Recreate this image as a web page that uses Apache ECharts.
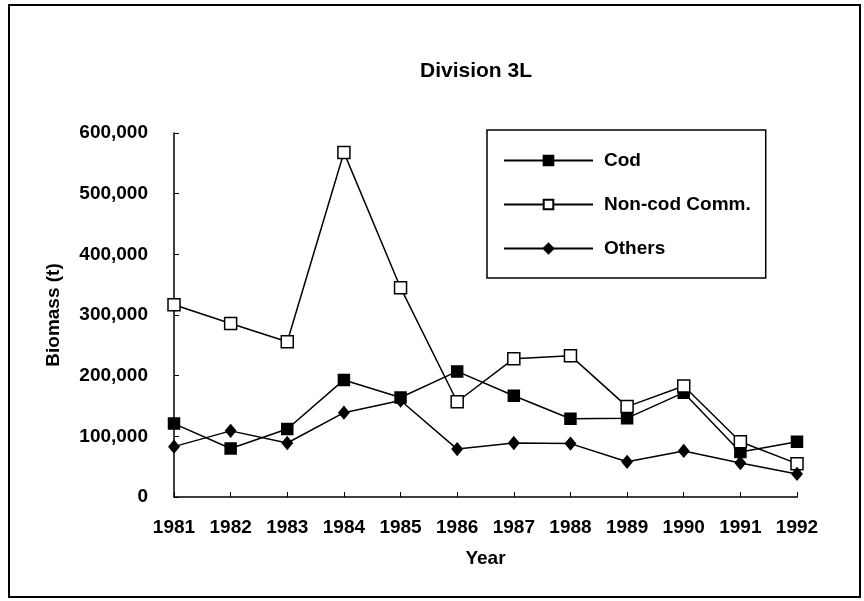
<!DOCTYPE html>
<html>
<head>
<meta charset="utf-8">
<script src="https://cdn.jsdelivr.net/npm/echarts@6/dist/echarts.min.js"></script>
<style>
  html, body { margin: 0; padding: 0; background: #fff; }
  #chart { width: 864px; height: 601px; }
</style>
</head>
<body>
<div id="chart"></div>
<script>
'use strict';

const YEARS = ['1981', '1982', '1983', '1984', '1985', '1986', '1987', '1988', '1989', '1990', '1991', '1992'];
const COD = [121000, 80000, 112000, 193000, 164000, 207000, 167000, 129000, 130000, 172000, 74000, 91000];
const NON_COD = [317000, 286000, 256000, 568000, 345000, 157000, 228000, 233000, 149000, 183000, 91000, 55000];
const OTHERS = [83000, 109000, 89000, 139000, 159000, 79000, 89000, 88000, 58000, 76000, 56000, 38000];

const FONT = '"Liberation Sans", Arial, sans-serif';
const INK = '#000';

function fmtThousands(v) {
  return String(v).replace(/\B(?=(\d{3})+(?!\d))/g, ',');
}

function lineSeries(name, data, symbol, size, fill) {
  return {
    name: name,
    type: 'line',
    data: data,
    symbol: symbol,
    symbolSize: size,
    showAllSymbol: true,
    lineStyle: { color: INK, width: 1.5 },
    itemStyle: { color: fill, borderColor: INK, borderWidth: 1.5 },
    emphasis: { disabled: true },
    animation: false
  };
}

const chart = echarts.init(document.getElementById('chart'), null, { renderer: 'canvas' });

chart.setOption({
  backgroundColor: '#fff',
  animation: false,
  graphic: [{
    type: 'rect',
    shape: { x: 9, y: 5, width: 851, height: 592 },
    style: { fill: 'none', stroke: INK, lineWidth: 2 },
    silent: true
  }],
  title: {
    text: 'Division 3L',
    left: 471,
    textAlign: 'center',
    top: 56,
    textStyle: { fontFamily: FONT, fontSize: 21, fontWeight: 'bold', color: INK }
  },
  legend: {
    orient: 'vertical',
    left: 487,
    top: 130,
    padding: [21, 15, 20, 16],
    itemGap: 25,
    itemWidth: 89,
    itemHeight: 12,
    borderColor: INK,
    borderWidth: 1.5,
    textStyle: { fontFamily: FONT, fontSize: 19, fontWeight: 'bold', color: INK, padding: [0, 0, 0, 6] },
    data: ['Cod', 'Non-cod Comm.', 'Others']
  },
  grid: { left: 174, right: 67, top: 133, bottom: 104, containLabel: false },
  xAxis: {
    type: 'category',
    data: YEARS,
    boundaryGap: false,
    name: 'Year',
    nameLocation: 'middle',
    nameGap: 52,
    nameTextStyle: { fontFamily: FONT, fontSize: 19, fontWeight: 'bold', color: INK },
    axisLine: { lineStyle: { color: INK, width: 1.5 } },
    axisTick: { inside: true, length: 5, alignWithLabel: true, lineStyle: { color: INK } },
    axisLabel: { margin: 21, fontFamily: FONT, fontSize: 19, fontWeight: 'bold', color: INK },
    splitLine: { show: false }
  },
  yAxis: {
    type: 'value',
    min: 0,
    max: 600000,
    interval: 100000,
    name: 'Biomass (t)',
    nameLocation: 'middle',
    nameRotate: 90,
    nameGap: 111,
    nameTextStyle: { fontFamily: FONT, fontSize: 19, fontWeight: 'bold', color: INK },
    axisLine: { show: true, lineStyle: { color: INK, width: 1.5 } },
    axisTick: { show: true, inside: true, length: 5, lineStyle: { color: INK } },
    axisLabel: { margin: 26, fontFamily: FONT, fontSize: 19, fontWeight: 'bold', color: INK, formatter: fmtThousands },
    splitLine: { show: false }
  },
  series: [
    lineSeries('Cod', COD, 'rect', 11, INK),
    lineSeries('Non-cod Comm.', NON_COD, 'rect', 12, '#fff'),
    lineSeries('Others', OTHERS, 'diamond', [10, 12], INK)
  ]
});
</script>
</body>
</html>
